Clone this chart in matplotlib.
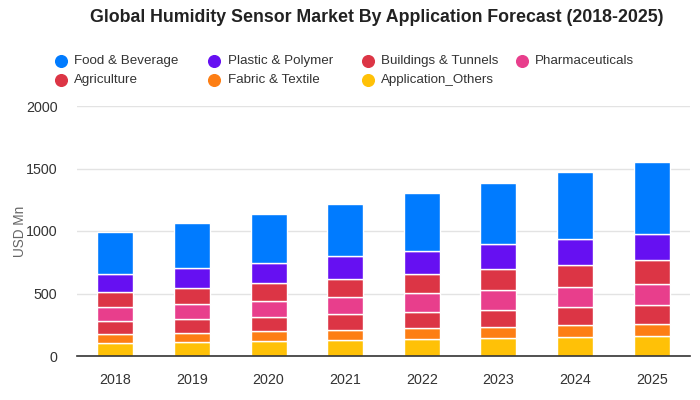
import matplotlib.pyplot as plt
import numpy as np

plt.rcParams['font.family'] = ['Liberation Sans', 'DejaVu Sans']

years = ['2018', '2019', '2020', '2021', '2022', '2023', '2024', '2025']

# stacked bottom -> top
others = [102, 111, 119, 127, 135, 143, 151, 157]
fabric = [73, 77, 80, 80, 89, 89, 97, 99]
agriculture = [105, 108, 113, 130, 129, 137, 145, 153]
pharma = [115, 121, 129, 137, 153, 161, 161, 166]
buildings = [119, 129, 146, 145, 147, 170, 175, 197]
plastic = [145, 162, 158, 178, 186, 193, 205, 202]
food = [334, 357, 393, 422, 465, 495, 535, 577]

series = [
    ('Application_Others', others, '#FFC107'),
    ('Fabric & Textile', fabric, '#FD7E14'),
    ('Agriculture', agriculture, '#DC3545'),
    ('Pharmaceuticals', pharma, '#E83E8C'),
    ('Buildings & Tunnels', buildings, '#DC3545'),
    ('Plastic & Polymer', plastic, '#6610F2'),
    ('Food & Beverage', food, '#007BFF'),
]
colors = {name: col for name, vals, col in series}

fig = plt.figure(figsize=(7, 4), dpi=100)
ax = fig.add_axes([77/700, 1 - 356/400, (690-77)/700, (356-106)/400])

x = np.arange(len(years))
bottom = np.zeros(len(years))
for name, vals, col in series:
    ax.bar(x, vals, 0.47, bottom=bottom, color=col, edgecolor='white',
           linewidth=1, zorder=3)
    bottom += np.array(vals)

ax.set_xlim(-0.5, len(years) - 0.5)
ax.set_ylim(0, 2000)
ax.set_yticks([0, 500, 1000, 1500, 2000])
ax.set_xticks(x)
ax.set_xticklabels(years)
ax.grid(axis='y', color='#e3e3e3', linewidth=1, zorder=0)
for s in ['top', 'right', 'left']:
    ax.spines[s].set_visible(False)
ax.spines['bottom'].set_color('#333333')
ax.spines['bottom'].set_linewidth(1.2)
ax.spines['bottom'].set_zorder(4)
ax.tick_params(axis='both', length=0, labelsize=10.3, colors='#333333')
ax.tick_params(axis='y', pad=14)
ax.tick_params(axis='x', pad=12)
ax.set_ylabel('USD Mn', fontsize=9.8, color='#666666', labelpad=-1)

fig.text(377/700, 1 - 18/400, 'Global Humidity Sensor Market By Application Forecast (2018-2025)',
         ha='center', va='center', fontsize=12.8, fontweight='bold', color='#222222')

# legend laid out in rows like the original
legend_rows = [['Food & Beverage', 'Plastic & Polymer', 'Buildings & Tunnels', 'Pharmaceuticals'],
               ['Agriculture', 'Fabric & Textile', 'Application_Others']]
for r, row in enumerate(legend_rows):
    yy = 1 - (61.3 + 19 * r) / 400
    for c, name in enumerate(row):
        xx = (60.7 + 153.7 * c) / 700
        fig.add_artist(plt.Line2D([xx], [yy], marker='o', markersize=8.4, linestyle='',
                                  color=colors[name], transform=fig.transFigure))
        fig.text(xx + 13.3/700, yy, name, ha='left', va='center', fontsize=9.6,
                 color='#333333')

fig.savefig('out.png', dpi=100)
